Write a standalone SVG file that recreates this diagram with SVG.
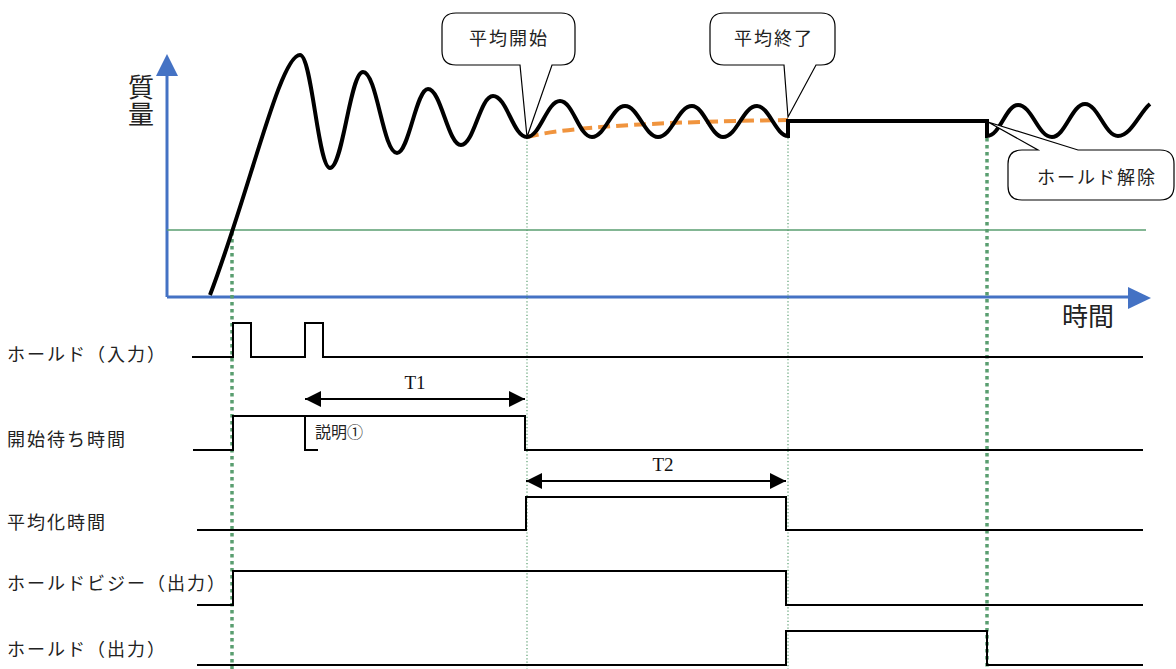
<svg xmlns="http://www.w3.org/2000/svg" width="1176" height="669" viewBox="0 0 1176 669">
<style>
.jp{font-family:"Noto Sans CJK JP","Noto Sans",sans-serif;fill:#222;}
.lbl{font-size:18px;letter-spacing:2px;}
.big{font-size:26px;}
.ser{font-family:"Liberation Serif",serif;font-size:19px;fill:#111;}
.sig{fill:none;stroke:#000;stroke-width:2;stroke-linejoin:miter;}
.axis{stroke:#4472C4;stroke-width:3;fill:none;}
.gthick{stroke:#5A9E70;stroke-width:3.5;stroke-dasharray:3.5 3.5;fill:none;}
.gthin{stroke:#5A9E70;stroke-width:1.2;stroke-dasharray:1.2 2.2;fill:none;}
.call{fill:#fff;stroke:#000;stroke-width:1.2;stroke-linejoin:miter;}
.dim{stroke:#000;stroke-width:2;fill:none;}
</style>
<defs>
<marker id="ah" viewBox="0 0 16 16" refX="16" refY="8" markerWidth="16" markerHeight="16" markerUnits="userSpaceOnUse" orient="auto-start-reverse">
<path d="M0,0 L16,8 L0,16 Z" fill="#000"/>
</marker>
</defs>
<rect width="1176" height="669" fill="#fff"/>

<g id="axes">
<line class="axis" x1="167" y1="297" x2="167" y2="74"/>
<polygon points="167,54 156,76 178,76" fill="#4472C4"/>
<line class="axis" x1="167" y1="297" x2="1130" y2="297"/>
<polygon points="1151,298 1128,287 1128,309" fill="#4472C4"/>
<line x1="167" y1="230" x2="1146" y2="230" stroke="#5A9E70" stroke-width="1.6"/>
<text class="jp big" x="141" y="74" writing-mode="vertical-rl" letter-spacing="1">質量</text>
<text class="jp big" x="1088" y="326" text-anchor="middle">時間</text>
</g>

<g id="guides">
<line class="gthick" x1="232" y1="232" x2="232" y2="669"/>
<line class="gthin" x1="527" y1="138" x2="527" y2="669"/>
<line class="gthin" x1="788" y1="138" x2="788" y2="669"/>
<line class="gthick" x1="987" y1="138" x2="987" y2="669"/>
</g>

<g id="mass-curve">
<path d="M527,137 Q580,123 788,120" fill="none" stroke="#F0943E" stroke-width="4" stroke-dasharray="12 6"/>
<path fill="none" stroke="#000" stroke-width="4" stroke-linejoin="miter" d="M210,295 C250,190 280,55 300,55 C312,55 318,168 330,168 C343,168 350,72 363,72 C377,72 383,153 397,153 C409,153 416,89 428,89 C441,89 448,145 461,145 C474,145 480,96 493,96 C507,96 513,137 527,137 C540,137 547,101 560,101 C573,101 579,137 592,137 C605,137 612,106 625,106 C638,106 645,137 658,137 C672,137 678,106 692,106 C704,106 711,137 723,137 C737,137 743,106 757,106 C769,106 776,136 788,136 L788,121 L987,121 L987,136 C1000,136 1006,105 1018,105 C1032,105 1038,137 1052,137 C1065,137 1072,104 1085,104 C1098,104 1105,136 1118,136 C1131,136 1140,112 1150,104"/>
</g>

<g id="callout-start">
<path class="call" d="M456,13 H561 Q575,13 575,27 V51 Q575,65 561,65 H552 L527,137 L520,65 H456 Q442,65 442,51 V27 Q442,13 456,13 Z"/>
<text class="jp lbl" x="509" y="45" text-anchor="middle">平均開始</text>
</g>
<g id="callout-end">
<path class="call" d="M724,13 H821 Q835,13 835,27 V51 Q835,65 821,65 H816 L788,117 L784,65 H724 Q710,65 710,51 V27 Q710,13 724,13 Z"/>
<text class="jp lbl" x="774" y="45" text-anchor="middle">平均終了</text>
</g>
<g id="callout-release">
<path class="call" d="M1022,150 H1038 L988,122 L1078,150 H1160 Q1174,150 1174,164 V186 Q1174,200 1160,200 H1022 Q1008,200 1008,186 V164 Q1008,150 1022,150 Z"/>
<text class="jp lbl" x="1097" y="184" text-anchor="middle">ホールド解除</text>
</g>

<g id="labels">
<text class="jp lbl" x="7" y="361">ホールド（入力）</text>
<text class="jp lbl" x="7" y="446">開始待ち時間</text>
<text class="jp lbl" x="7" y="529">平均化時間</text>
<text class="jp lbl" x="7" y="590">ホールドビジー（出力）</text>
<text class="jp lbl" x="7" y="656">ホールド（出力）</text>
</g>

<g id="signals">
<path class="sig" d="M192,357 H233 V323 H251 V357 H305 V323 H323 V357 H1143"/>
<path class="sig" d="M193,450 H233 V416 H525 V450 H1143"/>
<path class="sig" d="M305,416 V450 H318"/>
<path class="sig" d="M197,530 H526 V497 H786 V530 H1143"/>
<path class="sig" d="M197,605 H233 V571 H786 V605 H1143"/>
<path class="sig" d="M197,665 H786 V631 H987 V665 H1143"/>
</g>

<g id="dimensions">
<line class="dim" x1="305" y1="399" x2="525" y2="399" marker-start="url(#ah)" marker-end="url(#ah)"/>
<text class="ser" x="415" y="389" text-anchor="middle">T1</text>
<line class="dim" x1="526" y1="481" x2="786" y2="481" marker-start="url(#ah)" marker-end="url(#ah)"/>
<text class="ser" x="663" y="471" text-anchor="middle">T2</text>
<text class="jp" x="315" y="438" font-size="16">説明①</text>
</g>
</svg>
